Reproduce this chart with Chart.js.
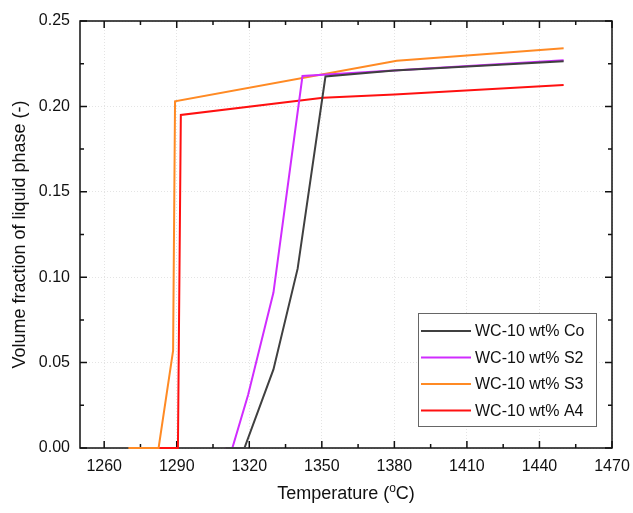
<!DOCTYPE html>
<html>
<head>
<meta charset="utf-8">
<script src="https://cdn.jsdelivr.net/npm/chart.js@4.4.1/dist/chart.umd.min.js"></script>
<style>
  html, body { margin: 0; padding: 0; background: #fff; }
  #wrap { width: 633px; height: 513px; }
</style>
</head>
<body>
<div id="wrap"><canvas id="fracChart" width="633" height="513"></canvas></div>
<script>
// Series data: [temperature in °C, volume fraction]
var coTemp   = [1310, 1318, 1330, 1340, 1351.5, 1380, 1450];
var coFrac   = [0, 0, 0.046, 0.105, 0.2175, 0.221, 0.2265];
var s2Temp   = [1310, 1313, 1319.5, 1330, 1342, 1450];
var s2Frac   = [0, 0, 0.031, 0.091, 0.2178, 0.227];
var s3Temp   = [1270, 1282.5, 1288.5, 1289.3, 1381, 1450];
var s3Frac   = [0, 0, 0.057, 0.203, 0.2267, 0.234];
var a4Temp   = [1280, 1290.5, 1291.7, 1350.5, 1380, 1450];
var a4Frac   = [0, 0, 0.195, 0.205, 0.207, 0.2125];

var seriesNames  = ['WC-10 wt% Co', 'WC-10 wt% S2', 'WC-10 wt% S3', 'WC-10 wt% A4'];
var seriesColors = ['#404040', '#d02cff', '#ff8a24', '#ff1010'];

var xTicks = [1260, 1290, 1320, 1350, 1380, 1410, 1440, 1470];
var yTicks = [0, 0.05, 0.10, 0.15, 0.20, 0.25];

var FONT = '"Liberation Sans", Arial, sans-serif';

function toPoints(xs, ys) {
    return xs.map(function(x, i) { return { x: x, y: ys[i] }; });
}

var allSeries = [[coTemp, coFrac], [s2Temp, s2Frac], [s3Temp, s3Frac], [a4Temp, a4Frac]];

// frame, inward ticks, titles and the boxed legend
var framePlugin = {
    id: 'frame',
    beforeDatasetsDraw: function(chart) {
        var ctx = chart.ctx, a = chart.chartArea;
        var xs = chart.scales.x, ys = chart.scales.y;
        ctx.save();
        ctx.strokeStyle = '#111';
        ctx.lineWidth = 1.5;
        ctx.strokeRect(a.left, a.top, a.right - a.left, a.bottom - a.top);
        ctx.beginPath();
        var t, p, len;
        for (t = 1260; t <= 1470; t += 15) {
            p = xs.getPixelForValue(t);
            len = (t - 1260) % 30 === 0 ? 7 : 4;
            ctx.moveTo(p, a.bottom); ctx.lineTo(p, a.bottom - len);
            ctx.moveTo(p, a.top); ctx.lineTo(p, a.top + len);
        }
        for (var k = 0; k <= 10; k++) {
            t = k * 0.025;
            p = ys.getPixelForValue(t);
            len = k % 2 === 0 ? 7 : 4;
            ctx.moveTo(a.left, p); ctx.lineTo(a.left + len, p);
            ctx.moveTo(a.right, p); ctx.lineTo(a.right - len, p);
        }
        ctx.stroke();
        ctx.restore();
    },
    afterDraw: function(chart) {
        var ctx = chart.ctx, a = chart.chartArea;
        ctx.save();
        ctx.fillStyle = '#111';
        // x title with superscript o
        ctx.font = '18px ' + FONT;
        ctx.textBaseline = 'alphabetic';
        var p1 = 'Temperature (', p3 = 'C)';
        var supFont = '12px ' + FONT;
        var w1 = ctx.measureText(p1).width, w3 = ctx.measureText(p3).width;
        ctx.font = supFont;
        var w2 = ctx.measureText('o').width;
        var x0 = (a.left + a.right) / 2 - (w1 + w2 + w3) / 2;
        var yb = 499;
        ctx.font = '18px ' + FONT;
        ctx.textAlign = 'left';
        ctx.fillText(p1, x0, yb);
        ctx.font = supFont;
        ctx.fillText('o', x0 + w1, yb - 7);
        ctx.font = '18px ' + FONT;
        ctx.fillText(p3, x0 + w1 + w2, yb);

        // y title
        ctx.save();
        ctx.translate(25, (a.top + a.bottom) / 2);
        ctx.rotate(-Math.PI / 2);
        ctx.textAlign = 'center';
        ctx.fillText('Volume fraction of liquid phase (-)', 0, 0);
        ctx.restore();

        // legend box
        var bx = 418, by = 313, bw = 178, bh = 113;
        ctx.fillStyle = '#fff';
        ctx.fillRect(bx, by, bw, bh);
        ctx.strokeStyle = '#666';
        ctx.lineWidth = 1;
        ctx.strokeRect(bx + 0.5, by + 0.5, bw, bh);
        ctx.font = '16px ' + FONT;
        ctx.textBaseline = 'middle';
        ctx.textAlign = 'left';
        chart.data.datasets.forEach(function(ds, i) {
            var ly = by + 18 + i * 26.5;
            ctx.strokeStyle = ds.borderColor;
            ctx.lineWidth = 2;
            ctx.beginPath();
            ctx.moveTo(bx + 3, ly);
            ctx.lineTo(bx + 53, ly);
            ctx.stroke();
            ctx.fillStyle = '#111';
            ctx.fillText(ds.label, bx + 57, ly + 1);
        });
        ctx.restore();
    }
};

new Chart(document.getElementById('fracChart'), {
    type: 'line',
    data: {
        datasets: allSeries.map(function(s, i) {
            return {
                label: seriesNames[i],
                data: toPoints(s[0], s[1]),
                borderColor: seriesColors[i],
                backgroundColor: seriesColors[i],
                borderWidth: 2,
                pointRadius: 0,
                tension: 0,
                clip: false
            };
        })
    },
    options: {
        responsive: false,
        animation: false,
        layout: { padding: { left: 0, right: 21, top: 21, bottom: 0 } },
        plugins: { legend: { display: false }, tooltip: { enabled: false } },
        scales: {
            x: {
                type: 'linear',
                min: 1250,
                max: 1470,
                afterBuildTicks: function(scale) {
                    scale.ticks = xTicks.map(function(v) { return { value: v }; });
                },
                afterFit: function(scale) {
                    scale.height = 65;
                    scale.paddingLeft = 0;
                    scale.paddingRight = 0;
                },
                ticks: {
                    color: '#111',
                    padding: 9,
                    maxRotation: 0,
                    font: { family: FONT, size: 16 },
                    callback: function(v) { return String(v); }
                },
                grid: { color: '#e4e4e4', borderDash: [1, 2], drawTicks: false, lineWidth: 1 },
                border: { display: false, dash: [1, 2] }
            },
            y: {
                type: 'linear',
                min: 0,
                max: 0.25,
                afterBuildTicks: function(scale) {
                    scale.ticks = yTicks.map(function(v) { return { value: v }; });
                },
                afterFit: function(scale) {
                    scale.width = 80;
                    scale.paddingTop = 0;
                    scale.paddingBottom = 0;
                },
                ticks: {
                    color: '#111',
                    padding: 10,
                    font: { family: FONT, size: 16 },
                    callback: function(v) { return v.toFixed(2); }
                },
                grid: { color: '#e4e4e4', drawTicks: false, lineWidth: 1 },
                border: { display: false, dash: [1, 2] }
            }
        }
    },
    plugins: [framePlugin]
});
</script>
</body>
</html>
